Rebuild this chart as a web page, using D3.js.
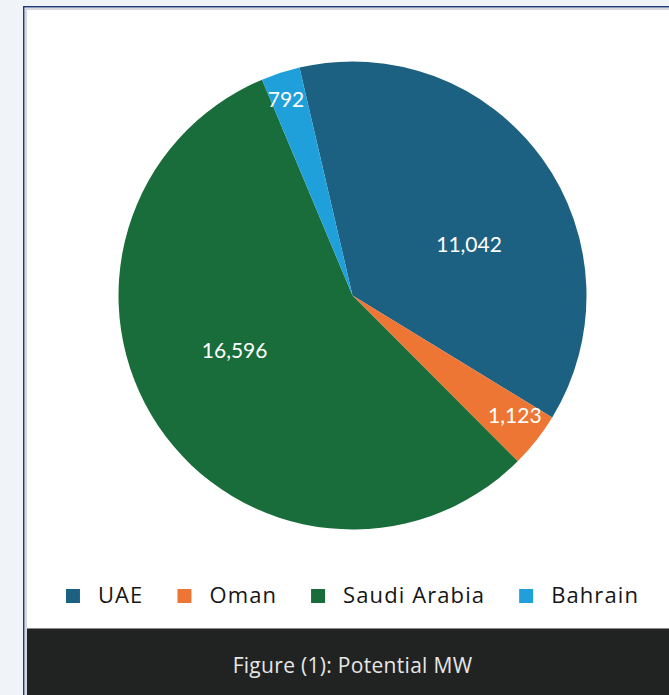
<!DOCTYPE html>
<html>
<head>
<meta charset="utf-8">
<script src="https://cdn.jsdelivr.net/npm/d3@7"></script>
<style>
  html, body { margin: 0; padding: 0; background: #f0f4f9; }
  svg { display: block; }
</style>
</head>
<body>
<svg id="chart" width="669" height="695"></svg>
<script>
// ---- data ----
const categories = ["UAE", "Oman", "Saudi Arabia", "Bahrain"];
const values = [11042, 1123, 16596, 792];
const colors = ["#1d6182", "#ee7634", "#186d3a", "#20a0da"];
const caption = "Figure (1): Potential MW";

const W = 669, H = 695;
const cx = 352.5, cy = 295.5, R = 234;
const FONT = "Lato, 'Open Sans', sans-serif";
const FONT2 = "'Open Sans', Lato, sans-serif";

const svg = d3.select("#chart");

// page background and frame
svg.append("rect").attr("width", W).attr("height", H).attr("fill", "#f0f4f9");
svg.append("rect").attr("x", 23).attr("y", 6).attr("width", W).attr("height", H)
  .attr("fill", "#ffffff");
svg.append("path").attr("d", `M23.75,${H} L23.75,6.75 L${W},6.75`)
  .attr("fill", "none").attr("stroke", "#1c3a78").attr("stroke-width", 1.5);
svg.append("path").attr("d", `M26,${H} L26,9 L${W},9`)
  .attr("fill", "none").attr("stroke", "#c9cbcf").attr("stroke-width", 1.5);

// pie
const deg = Math.PI / 180;
const start = -13.1 * deg;
const pie = d3.pie().sort(null).value(d => d.v).startAngle(start).endAngle(start + 2 * Math.PI);
const data = categories.map((c, i) => ({ c, v: values[i], col: colors[i] }));
const arcs = pie(data);
const arc = d3.arc().innerRadius(0).outerRadius(R);

const g = svg.append("g").attr("transform", `translate(${cx},${cy})`);
g.selectAll("path.slice").data(arcs).enter().append("path")
  .attr("class", "slice")
  .attr("d", arc)
  .attr("fill", d => d.data.col);

const fmt = d3.format(",");
g.selectAll("text.lbl").data(arcs).enter().append("text")
  .attr("class", "lbl")
  .attr("transform", d => {
    const span = d.endAngle - d.startAngle;
    let mid = (d.startAngle + d.endAngle) / 2;
    let r;
    if (span < 0.35) {
      r = R * 0.87;
      mid -= 0.02;
    } else {
      r = R * 0.55;
      // pull big-slice labels toward the horizontal axis
      const m = ((mid % (2 * Math.PI)) + 2 * Math.PI) % (2 * Math.PI);
      const target = m < Math.PI ? Math.PI / 2 : 3 * Math.PI / 2;
      mid = m + 0.3 * (target - m);
    }
    return `translate(${Math.sin(mid) * r},${-Math.cos(mid) * r})`;
  })
  .attr("text-anchor", "middle")
  .attr("dy", d => (d.endAngle - d.startAngle) < 0.35 ? "0.2em" : "0.52em")
  .attr("fill", "#ffffff")
  .style("font-family", FONT)
  .style("font-size", "21px")
  .text(d => fmt(d.data.v));

// legend
const legend = svg.append("g");
const items = legend.selectAll("g.item").data(data).enter().append("g").attr("class", "item");
items.append("rect").attr("width", 14).attr("height", 14).attr("y", -14)
  .attr("fill", d => d.col);
items.append("text").attr("x", 32).attr("y", 0)
  .attr("fill", "#161616")
  .style("font-family", FONT2).style("font-size", "22px")
  .style("letter-spacing", "1.1px")
  .text(d => d.c);
let x = 0;
const gap = 34;
items.each(function () {
  const el = d3.select(this);
  el.attr("transform", `translate(${x},603)`);
  const tw = el.select("text").node().getComputedTextLength();
  x += 32 + tw + gap;
});
const total = x - gap;
legend.attr("transform", `translate(${cx - total / 2},0)`);

// caption bar
svg.append("rect").attr("x", 27).attr("y", 628).attr("width", W - 27).attr("height", H - 628)
  .attr("fill", "#212322");
svg.append("line").attr("x1", 27).attr("x2", W).attr("y1", 628.5).attr("y2", 628.5)
  .attr("stroke", "#8c8c8c").attr("stroke-width", 1);
svg.append("text").attr("x", cx).attr("y", 673)
  .attr("text-anchor", "middle")
  .attr("fill", "#e6e6e6")
  .style("font-family", FONT2).style("font-size", "21px")
  .style("letter-spacing", "0.3px")
  .text(caption);
</script>
</body>
</html>
